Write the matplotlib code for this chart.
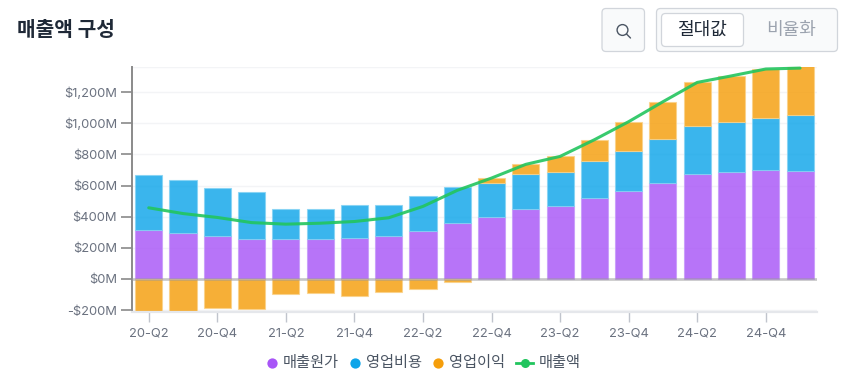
import matplotlib
matplotlib.use('Agg')
import matplotlib.pyplot as plt
import numpy as np
from matplotlib.lines import Line2D
from matplotlib.patches import FancyBboxPatch, Circle

plt.rcParams['font.family'] = ['Inter', 'Noto Sans CJK KR', 'DejaVu Sans']

quarters = ['20-Q2', '20-Q3', '20-Q4', '21-Q1', '21-Q2', '21-Q3', '21-Q4', '22-Q1', '22-Q2', '22-Q3',
            '22-Q4', '23-Q1', '23-Q2', '23-Q3', '23-Q4', '24-Q1', '24-Q2', '24-Q3', '24-Q4', '25-Q1']
cost = [316, 295, 273, 254, 254, 256, 266, 273, 308, 359,
        401, 448, 467, 519, 564, 615, 673, 686, 699, 695]
opex = [351, 340, 310, 303, 194, 194, 210, 205, 222, 231,
        216, 227, 221, 240, 259, 281, 311, 324, 336, 360]
profit = [-210, -215, -188, -195, -96, -92, -107, -85, -64, -21,
          31, 61, 99, 135, 187, 242, 278, 294, 313, 340]
revenue = [457, 420, 395, 362, 352, 358, 369, 393, 466, 569,
           648, 736, 787, 894, 1010, 1138, 1262, 1304, 1348, 1354]
yticks = [-200, 0, 200, 400, 600, 800, 1000, 1200]
ylabels = ['-$200M', '$0M', '$200M', '$400M', '$600M', '$800M', '$1,000M', '$1,200M']

W, H = 851, 391
fig = plt.figure(figsize=(W / 100, H / 100), dpi=100)
ax = fig.add_axes([131.6 / W, 1 - 312 / H, 685.6 / W, (312 - 67) / H])

x = np.arange(len(quarters))
cost = np.array(cost)
opex = np.array(opex)
profit = np.array(profit)
pos_base = cost + opex

kw = dict(width=0.79, alpha=0.82, linewidth=0.8, zorder=2)
ax.bar(x, cost, color='#a855f7', edgecolor='#c79bfa', **kw)
ax.bar(x, opex, bottom=cost, color='#0ea5e9', edgecolor='#86d3f4', **kw)
ax.bar(x, profit, bottom=np.where(profit > 0, pos_base, 0), color='#f59e0b', edgecolor='#fbd28a', **kw)
ax.plot(x, revenue, color='#22c55e', lw=2.2, alpha=0.9, zorder=4, solid_capstyle='round', clip_on=False)
ax.axhline(0, color='#9a9a9a', lw=2, alpha=0.5, zorder=3)

ax.set_xlim(-0.5, 19.5)
ax.set_ylim(-212, 1361)
ax.set_yticks(yticks)
ax.set_yticklabels(ylabels)
ax.set_xticks(x[::2])
ax.set_xticklabels(quarters[::2])
ax.tick_params(axis='y', length=8, width=1.2, color='#8a8a8a', labelcolor='#6b7280', labelsize=9.3, pad=2.5)
ax.tick_params(axis='x', length=7, width=1.0, color='#c0c4cc', labelcolor='#6b7280', labelsize=9.3, pad=4)
ax.grid(axis='y', color='#f3f4f6', lw=1, zorder=0)
ax.axhline(1361, color='#f3f4f6', lw=1, zorder=0)
ax.set_axisbelow(True)
for s in ['top', 'right']:
    ax.spines[s].set_visible(False)
ax.spines['left'].set_color('#8a8a8a')
ax.spines['left'].set_linewidth(1.4)
ax.spines['bottom'].set_color('#e5e7eb')
ax.spines['bottom'].set_linewidth(1.6)

# header and buttons, in pixel coordinates
ui = fig.add_axes([0, 0, 1, 1], zorder=-1)
ui.set_xlim(0, W)
ui.set_ylim(H, 0)
ui.axis('off')
ax.patch.set_alpha(0)


def box(x0, y0, x1, y1, fc, ec):
    ui.add_patch(FancyBboxPatch((x0 + 4, y0 + 4), x1 - x0 - 8, y1 - y0 - 8, boxstyle='round,pad=4',
                                fc=fc, ec=ec, lw=0.9))


box(602, 8.5, 644.5, 51.5, '#f9fafb', '#d1d5db')
box(656.5, 8.5, 837.5, 51.5, '#f9fafb', '#d1d5db')
box(661.5, 13.5, 743.5, 46.5, 'white', '#d1d5db')
ui.add_patch(Circle((622.5, 30), 5.4, fc='none', ec='#4b5563', lw=1.0))
ui.plot([626.5, 630.5], [34, 38], color='#4b5563', lw=1.0, solid_capstyle='round')
ui.text(17, 30, '매출액 구성', fontsize=14.6, fontweight='bold', color='#1f2937', va='center')
ui.text(702, 30.5, '절대값', fontsize=13, fontweight='medium', color='#1f2937', va='center', ha='center')
ui.text(791, 30.5, '비율화', fontsize=13, fontweight='medium', color='#9ca3af', va='center', ha='center')

# legend
items = [(272, '#a855f7', '매출원가', 283), (355, '#0ea5e9', '영업비용', 366), (438, '#f59e0b', '영업이익', 449)]
for cx, col, name, tx in items:
    ui.plot([cx], [363], 'o', ms=7.4, color=col, mew=0)
    ui.text(tx, 363, name, fontsize=11, color='#4b5563', va='center')
ui.add_line(Line2D([516, 533], [363, 363], color='#22c55e', lw=2))
ui.plot([524.5], [363], 'o', ms=6.5, color='#22c55e', mew=0)
ui.text(539, 363, '매출액', fontsize=11, color='#4b5563', va='center')

fig.savefig('out.png', dpi=100, facecolor='white')
